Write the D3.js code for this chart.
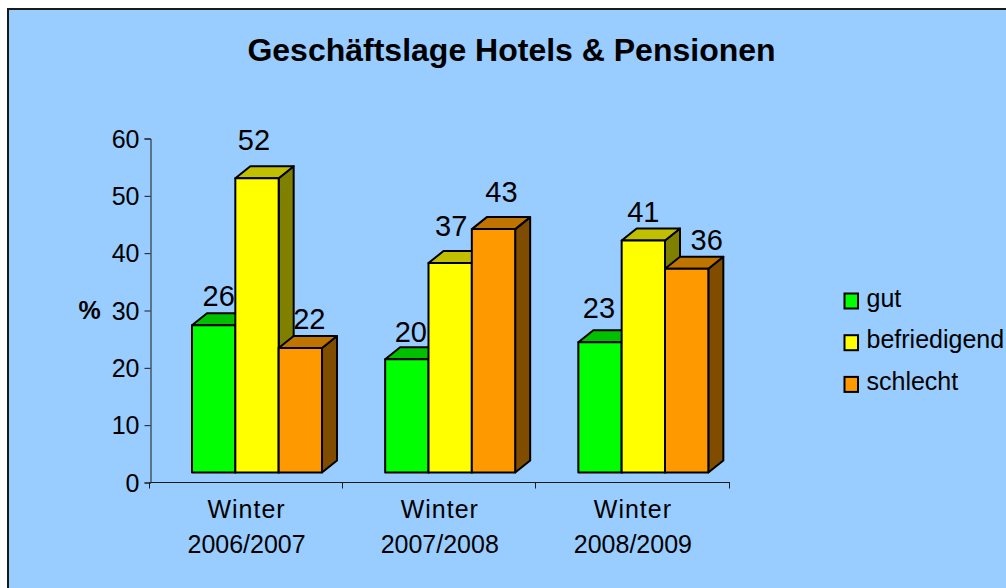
<!DOCTYPE html>
<html><head><meta charset="utf-8">
<script src="https://cdn.jsdelivr.net/npm/d3@7/dist/d3.min.js"></script>
<style>html,body{margin:0;padding:0;background:#fff}svg{display:block}text{font-family:"Liberation Sans",Arial,sans-serif;fill:#000}</style>
</head><body><svg id="c" width="1006" height="588"></svg>
<script>
const title = "Geschäftslage Hotels & Pensionen";
const yAxisTitle = "%";
const categories = [["Winter","2006/2007"],["Winter","2007/2008"],["Winter","2008/2009"]];
const seriesNames = ["gut","befriedigend","schlecht"];
const gut = [26,20,23];
const befriedigend = [52,37,41];
const schlecht = [22,43,36];
const yTicks = [0,10,20,30,40,50,60];
const front = ["#00ff00","#ffff00","#ff9900"];
const topC = ["#00c000","#c0c000","#c07400"];
const sideC = ["#008000","#808000","#804d00"];
// hand-placed label nudges, as in the reference (per series, per category)
const labelNudgeX = [[5,4,-1],[-3,1,0],[9,8,20]];
const labelNudgeY = [[-19,-17,-24.5],[-28,-27.5,-18.5],[-19,-27,-19]];

const seriesValues = [gut,befriedigend,schlecht];
const svg = d3.select("#c");
svg.append("rect").attr("x",8).attr("y",9).attr("width",1010).attr("height",590)
  .attr("fill","#99ccff").attr("stroke","#1a1a1a").attr("stroke-width",2);
svg.append("text").attr("x",511.5).attr("y",61).attr("text-anchor","middle")
  .attr("font-size",32).attr("font-weight","bold").text(title);

const y = d3.scaleLinear().domain([0,60]).range([482.5,138.5]);
const yFront = d3.scaleLinear().domain([0,60]).range([472.5,132.9]);
const x0 = d3.scaleBand().domain(d3.range(categories.length)).range([150,729.5]);
const x1 = d3.scaleBand().domain(d3.range(seriesNames.length)).range([42,172]);
const dx = 15, dy = 12;

const yAx = svg.append("g").attr("transform","translate(150.5,0)")
  .call(d3.axisLeft(y).tickValues(yTicks).tickSize(6).tickPadding(5));
yAx.selectAll("text").attr("font-size",25).attr("dy","0.34em").attr("x",-11);
const xAx = svg.append("g").attr("transform","translate(0,482.5)");
xAx.append("line").attr("x1",150.5).attr("x2",730).attr("stroke","#1a1a1a");
[0,1,2,3].forEach(i=>{
  const tx = Math.floor(149.5+i*x0.step())+0.5;
  xAx.append("line").attr("x1",tx).attr("x2",tx).attr("y1",0).attr("y2",6).attr("stroke","#1a1a1a");
});
svg.selectAll(".domain,.tick line").attr("stroke","#1a1a1a");

categories.forEach((c,i)=>{
  const cx = x0(i)+x0.bandwidth()/2;
  c.forEach((t,k)=>svg.append("text").attr("x",cx).attr("y",517.5+k*35.5).attr("text-anchor","middle")
    .attr("font-size",25).attr("letter-spacing",k===0?1:0).text(t));
});
svg.append("text").attr("x",89.5).attr("y",319).attr("text-anchor","middle").attr("font-size",25).attr("font-weight","bold").text(yAxisTitle);

const bars = svg.append("g").attr("stroke","#000").attr("stroke-width",2).attr("stroke-linejoin","round");
categories.forEach((c,i)=>{
  seriesNames.forEach((s,j)=>{
    const v = seriesValues[j][i];
    const l = x0(i)+x1(j), r = l+x1.bandwidth(), t = yFront(v), b = yFront(0);
    const g = bars.append("g");
    g.append("path").attr("fill",sideC[j]).attr("d",`M${r},${t}L${r+dx},${t-dy}L${r+dx},${b-dy}L${r},${b}Z`);
    g.append("path").attr("fill",topC[j]).attr("d",`M${l},${t}L${l+dx},${t-dy}L${r+dx},${t-dy}L${r},${t}Z`);
    g.append("rect").attr("x",l).attr("y",t).attr("width",r-l).attr("height",b-t).attr("fill",front[j]);
  });
});
const labels = svg.append("g");
categories.forEach((c,i)=>{
  seriesNames.forEach((s,j)=>{
    const v = seriesValues[j][i];
    labels.append("text").attr("x",x0(i)+x1(j)+x1.bandwidth()/2+labelNudgeX[j][i]).attr("y",yFront(v)+labelNudgeY[j][i])
      .attr("text-anchor","middle").attr("font-size",29).text(v);
  });
});
const leg = svg.append("g");
seriesNames.forEach((s,j)=>{
  const yy = 301+j*41.7;
  leg.append("rect").attr("x",844.5).attr("y",yy-7.5).attr("width",13.5).attr("height",15).attr("fill",front[j]).attr("stroke","#000").attr("stroke-width",2);
  leg.append("text").attr("x",866.5).attr("y",yy+5.5).attr("font-size",25).text(s);
});
</script></body></html>
